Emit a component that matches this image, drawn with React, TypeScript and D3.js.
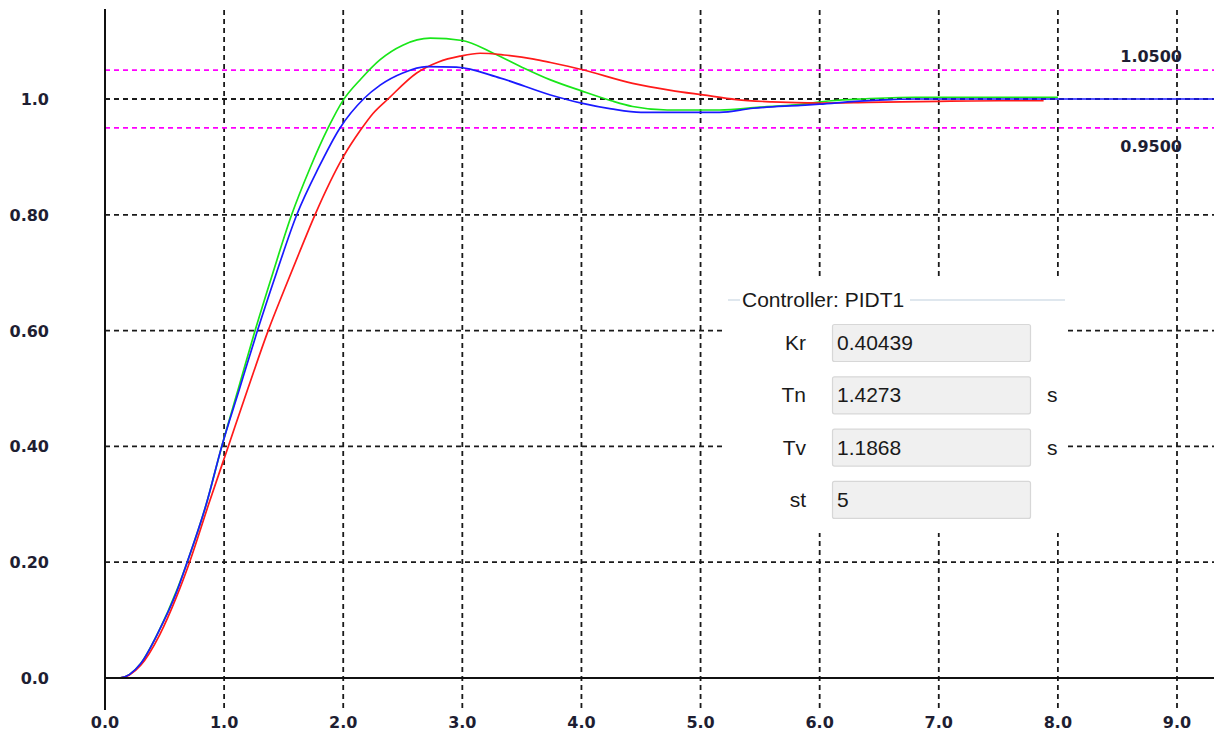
import React from "react";
import * as d3 from "d3";

const xTicks = [0, 1, 2, 3, 4, 5, 6, 7, 8, 9];
const xTickLabels = ["0.0", "1.0", "2.0", "3.0", "4.0", "5.0", "6.0", "7.0", "8.0", "9.0"];
const yTicks = [0, 0.2, 0.4, 0.6, 0.8, 1.0];
const yTickLabels = ["0.0", "0.20", "0.40", "0.60", "0.80", "1.0"];
const bandLevels = [1.05, 0.95];
const bandLabels = ["1.0500", "0.9500"];

const greenT = [0, 0.12, 0.3, 0.45, 0.6, 0.69, 0.85, 0.98, 1.12, 1.26, 1.41, 1.567, 1.72, 1.873, 2.0, 2.15, 2.31, 2.5, 2.73, 3.0, 3.26, 3.5, 3.74, 4.0, 4.25, 4.43, 4.72, 5.16, 5.5, 5.8, 6.1, 6.35, 6.8, 8.0];
const greenY = [0, 0, 0.025, 0.08, 0.15, 0.2, 0.3, 0.4, 0.5, 0.6, 0.7, 0.8, 0.88, 0.95, 0.998, 1.035, 1.068, 1.093, 1.105, 1.101, 1.079, 1.055, 1.033, 1.014, 0.997, 0.987, 0.981, 0.981, 0.986, 0.99, 0.997, 1.0, 1.003, 1.003];

const blueT = [0, 0.12, 0.3, 0.45, 0.6, 0.69, 0.85, 0.98, 1.13, 1.28, 1.44, 1.61, 1.79, 1.973, 2.17, 2.31, 2.5, 2.7, 2.95, 3.32, 3.74, 4.0, 4.25, 4.5, 5.16, 5.44, 5.84, 6.0, 6.3, 6.6, 6.8, 9.35];
const blueY = [0, 0, 0.025, 0.08, 0.148, 0.2, 0.3, 0.4, 0.5, 0.6, 0.7, 0.8, 0.88, 0.95, 1.0, 1.024, 1.045, 1.056, 1.055, 1.036, 1.007, 0.993, 0.983, 0.977, 0.977, 0.984, 0.989, 0.991, 0.996, 0.999, 1.0, 1.0];

const redT = [0, 0.12, 0.3, 0.46, 0.6, 0.71, 0.87, 1.035, 1.2, 1.37, 1.5, 1.63, 1.763, 2.0, 2.141, 2.25, 2.376, 2.617, 2.8, 2.98, 3.15, 3.35, 3.6, 3.74, 4.0, 4.43, 4.75, 5.02, 5.3, 5.6, 6.0, 6.4, 7.0, 7.5, 7.88];
const redY = [0, 0, 0.022, 0.075, 0.14, 0.2, 0.3, 0.4, 0.5, 0.6, 0.668, 0.734, 0.8, 0.9, 0.945, 0.975, 1.0, 1.045, 1.064, 1.074, 1.079, 1.076, 1.069, 1.063, 1.051, 1.027, 1.015, 1.007, 0.999, 0.995, 0.993, 0.994, 0.996, 0.997, 0.997];

const paramNames = ["Kr", "Tn", "Tv", "st"];
const paramValues = ["0.40439", "1.4273", "1.1868", "5"];
const paramUnits = ["", "s", "s", ""];
const controllerTitle = "Controller: PIDT1";

const W = 1214;
const H = 731;

export default function App() {
  const x = d3.scaleLinear().domain([0, 9]).range([105, 1177]);
  const y = d3.scaleLinear().domain([0, 1]).range([678, 99]);
  const line = d3
    .line<[number, number]>()
    .x((d) => x(d[0]))
    .y((d) => y(d[1]))
    .curve(d3.curveMonotoneX);

  const series = [
    { t: greenT, v: greenY, color: "#19e619" },
    { t: redT, v: redY, color: "#ff1a1a" },
    { t: blueT, v: blueY, color: "#1a1aff" },
  ];

  const tickFont = { fontFamily: "'DejaVu Sans', sans-serif", fontWeight: 700, fontSize: 16, fill: "#1e1e32" } as const;
  const uiFont = { fontFamily: "'Liberation Sans', Arial, sans-serif", fontSize: 21, fill: "#1a1a1a" } as const;

  const panelX = 726;
  const panelTop = 279;
  const panelW = 340;
  const panelH = 254;
  const rowStep = 52.3;
  const boxTop0 = 324;

  return (
    <div style={{ position: "absolute", left: 0, top: 0 }}>
      <svg width={W} height={H} style={{ display: "block", background: "#fff" }}>
        {xTicks.filter((t) => t > 0).map((t) => (
          <line key={"vg" + t} x1={x(t)} x2={x(t)} y1={10} y2={710} stroke="#1a1a1a" strokeWidth={1.8} strokeDasharray="5,4" />
        ))}
        {yTicks.filter((t) => t > 0).map((t) => (
          <line key={"hg" + t} x1={105} x2={W} y1={y(t)} y2={y(t)} stroke="#1a1a1a" strokeWidth={1.8} strokeDasharray="5,4" />
        ))}
        {bandLevels.map((b) => (
          <line key={"b" + b} x1={105} x2={W} y1={y(b)} y2={y(b)} stroke="#ff00ff" strokeWidth={1.8} strokeDasharray="5,4" />
        ))}
        {bandLabels.map((l, i) => (
          <text key={"bl" + i} x={1182} y={i === 0 ? 62 : 152} textAnchor="end" {...tickFont}>{l}</text>
        ))}

        {series.map((s, i) => (
          <path
            key={"s" + i}
            d={line(s.t.map((t, j) => [t, s.v[j]] as [number, number])) || ""}
            fill="none"
            stroke={s.color}
            strokeWidth={1.7}
          />
        ))}

        <line x1={105} x2={105} y1={9} y2={710} stroke="#111" strokeWidth={2} />
        <line x1={105} x2={W} y1={y(0)} y2={y(0)} stroke="#111" strokeWidth={2} />

        {yTicks.map((t, i) => (
          <text key={"yl" + t} x={49} y={y(t) + 6} textAnchor="end" {...tickFont}>{yTickLabels[i]}</text>
        ))}
        {xTicks.map((t, i) => (
          <text key={"xl" + t} x={x(t)} y={728} textAnchor="middle" {...tickFont}>{xTickLabels[i]}</text>
        ))}

        <rect x={panelX} y={panelTop} width={panelW} height={panelH} fill="#fff" />
        <line x1={728} x2={740} y1={300} y2={300} stroke="#d5dfe8" strokeWidth={1.5} />
        <line x1={910} x2={1065} y1={300} y2={300} stroke="#d5dfe8" strokeWidth={1.5} />
        <text x={742} y={307} {...uiFont}>{controllerTitle}</text>
        {paramNames.map((n, i) => {
          const top = boxTop0 + i * rowStep;
          return (
            <g key={"p" + n}>
              <text x={806} y={top + 26} textAnchor="end" {...uiFont}>{n}</text>
              <rect x={832.5} y={top + 0.5} width={198} height={37} rx={2} fill="#f0f0f0" stroke="#d7d7d7" strokeWidth={1.2} />
              <text x={837} y={top + 26} {...uiFont}>{paramValues[i]}</text>
              {paramUnits[i] && (
                <text x={1047} y={top + 26} {...uiFont}>{paramUnits[i]}</text>
              )}
            </g>
          );
        })}
      </svg>
    </div>
  );
}
